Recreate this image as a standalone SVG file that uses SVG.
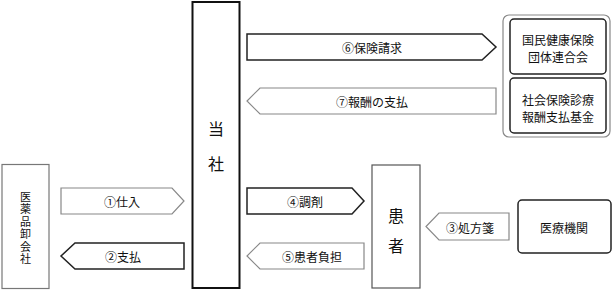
<svg xmlns="http://www.w3.org/2000/svg" width="612" height="290" viewBox="0 0 612 290">
<style>
text{font-family:"Noto Sans CJK JP","Noto Sans CJK SC",sans-serif;fill:#111;text-anchor:middle;dominant-baseline:central}
.s{font-size:12px}
.v{font-size:11px;writing-mode:vertical-rl;letter-spacing:1.5px}
.b{font-size:16px}
.dark{fill:#fff;stroke:#222;stroke-width:1.5}
.gray{fill:#fff;stroke:#888;stroke-width:1.2}
</style>
<rect width="612" height="290" fill="#fff"/>
<g id="connectors">
<g id="a6"><path class="dark" d="M247,34H482L496,47L482,60H247Z"/><text class="s" x="372" y="47">⑥保険請求</text></g>
<g id="a7"><path class="gray" d="M260,88H496V114H260L247,101Z"/><text class="s" x="372" y="101">⑦報酬の支払</text></g>
<g id="a1"><path class="gray" d="M61,188H172L184,201L172,214H61Z"/><text class="s" x="122" y="201">①仕入</text></g>
<g id="a2"><path class="dark" d="M75,243H184V269H75L61,256Z"/><text class="s" x="123" y="256">②支払</text></g>
<g id="a4"><path class="dark" d="M247,188H352L364,201L352,214H247Z"/><text class="s" x="305" y="201">④調剤</text></g>
<g id="a5"><path class="gray" d="M260,243H364V269H260L247,256Z"/><text class="s" x="312" y="256">⑤患者負担</text></g>
<g id="a3"><path class="gray" d="M439,213H509V240H439L426,226.5Z"/><text class="s" x="470" y="227">③処方箋</text></g>
</g>
<g id="toukai">
<rect x="192.5" y="2" width="47" height="286" fill="#fff" stroke="#111" stroke-width="2"/>
<text class="b" x="216" y="128">当</text>
<text class="b" x="216" y="163">社</text>
</g>
<g id="oroshi">
<rect x="2" y="164.5" width="47" height="124" fill="#fff" stroke="#777" stroke-width="1.2"/>
<text class="v" x="25.5" y="228.5">医薬品卸会社</text>
</g>
<g id="kanja">
<rect x="372" y="165" width="48" height="123" fill="#fff" stroke="#555" stroke-width="1.2"/>
<text class="b" x="396" y="215">患</text>
<text class="b" x="396" y="245">者</text>
</g>
<g id="iryou">
<rect x="518" y="200" width="93" height="53" rx="4" fill="#fff" stroke="#222" stroke-width="1.5"/>
<text class="s" x="564" y="227">医療機関</text>
</g>
<g id="shiharai">
<rect x="503" y="15" width="107" height="122" rx="6" fill="#fff" stroke="#888" stroke-width="1.2"/>
<g id="kokuho">
<rect x="510" y="19" width="96" height="55" rx="4" fill="#fff" stroke="#222" stroke-width="1.5"/>
<text class="s" x="558" y="39">国民健康保険</text>
<text class="s" x="558" y="56">団体連合会</text>
</g>
<g id="shaho">
<rect x="510" y="78" width="96" height="55" rx="4" fill="#fff" stroke="#222" stroke-width="1.5"/>
<text class="s" x="558" y="99">社会保険診療</text>
<text class="s" x="558" y="116">報酬支払基金</text>
</g>
</g>
</svg>
